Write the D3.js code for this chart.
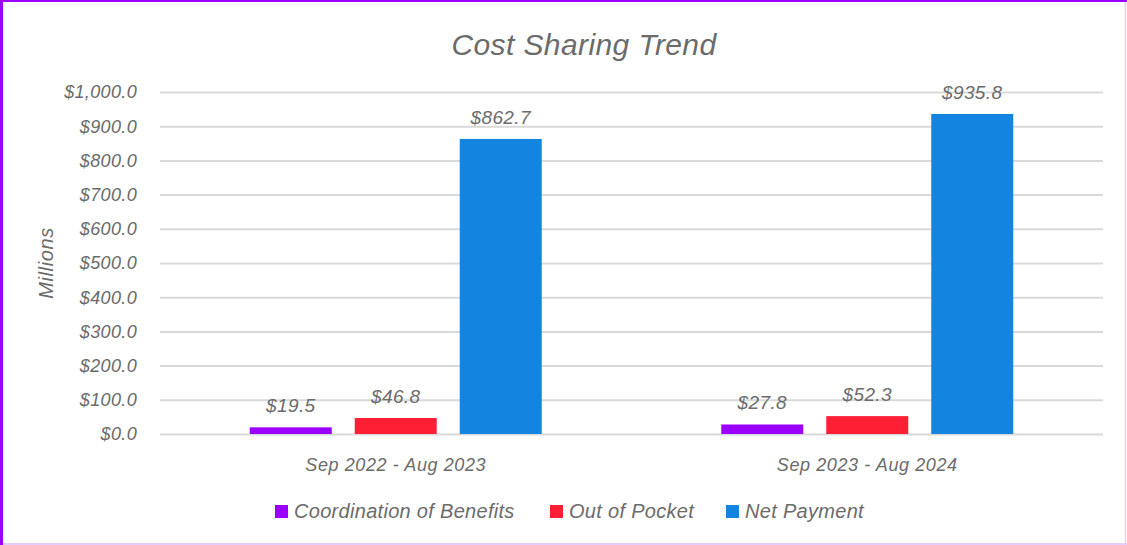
<!DOCTYPE html>
<html>
<head>
  <meta charset="UTF-8">
  <style>
    body { margin: 0; background: #fff; }
    svg { display: block; }
    text { font-family: "Liberation Sans", Arial, sans-serif; font-style: italic; fill: #6b6b6b; }
  </style>
  <title>Cost Sharing Trend</title>
</head>
<body>
<svg></svg>
<script src="https://d3js.org/d3.v7.min.js"></script>
<script>

let width = 1127, height = 545;

// data
const periods = ["Sep 2022 - Aug 2023", "Sep 2023 - Aug 2024"];
const seriesNames = ["Coordination of Benefits", "Out of Pocket", "Net Payment"];
const cob = [19.5, 27.8];
const oop = [46.8, 52.3];
const netPay = [862.7, 935.8];
const yTicks = [0, 100, 200, 300, 400, 500, 600, 700, 800, 900, 1000];
const colors = ["#9b00ff", "#ff1f35", "#1384e0"];

const values = [cob, oop, netPay];
const rows = periods.map((p, i) => ({
  period: p,
  vals: seriesNames.map((s, j) => ({ name: s, value: values[j][i], color: colors[j] }))
}));

let svg = d3.select("svg")
    .attr("width", width)
    .attr("height", height);

// frame
svg.append("rect").attr("x", 0).attr("y", 0).attr("width", width).attr("height", height).attr("fill", "#fff");
svg.append("line").attr("x1", 1125.5).attr("x2", 1125.5).attr("y1", 0).attr("y2", height).attr("stroke", "#e6ccff").attr("stroke-width", 1.5);
svg.append("line").attr("x1", 0).attr("x2", width).attr("y1", 544).attr("y2", 544).attr("stroke", "#e6ccff").attr("stroke-width", 2);
svg.append("rect").attr("x", 0).attr("y", 0).attr("width", width).attr("height", 2).attr("fill", "#9b00ff");
svg.append("rect").attr("x", 0).attr("y", 0).attr("width", 3).attr("height", height).attr("fill", "#9b00ff");

let plotLeft = 160, plotRight = 1103, plotTop = 92, plotBottom = 434;

let y = d3.scaleLinear().domain([0, 1000]).range([plotBottom, plotTop]);
let x0 = d3.scaleBand().domain(periods).range([plotLeft, plotRight]).padding(0);
let x1 = d3.scaleBand().domain(seriesNames).range([0, x0.bandwidth()])
    .paddingInner(0.219).paddingOuter(0.855);

// gridlines
svg.append("g")
  .selectAll("line")
  .data(yTicks)
  .enter()
  .append("line")
    .attr("x1", plotLeft).attr("x2", plotRight)
    .attr("y1", d => y(d) + 0.5).attr("y2", d => y(d) + 0.5)
    .attr("stroke", "#d9d9d9")
    .attr("stroke-width", 2);

// y labels
svg.append("g")
  .selectAll("text")
  .data(yTicks)
  .enter()
  .append("text")
    .attr("x", 137)
    .attr("y", d => y(d))
    .attr("dy", "0.35em")
    .attr("text-anchor", "end")
    .style("font-size", "18px")
    .style("letter-spacing", "0.35px")
    .text(d => "$" + d3.format(",.1f")(d));

svg.append("text")
  .attr("transform", "translate(53," + ((plotTop + plotBottom) / 2) + ") rotate(-90)")
  .attr("text-anchor", "middle")
  .style("font-size", "20px")
  .style("letter-spacing", "0.6px")
  .text("Millions");

// title
svg.append("text")
  .attr("x", 584).attr("y", 55)
  .attr("text-anchor", "middle")
  .style("font-size", "30px")
  .style("letter-spacing", "0.4px")
  .text("Cost Sharing Trend");

// bars
let groups = svg.append("g")
  .selectAll("g")
  .data(rows)
  .enter()
  .append("g")
    .attr("transform", d => "translate(" + x0(d.period) + ",0)");

groups.selectAll("rect")
  .data(d => d.vals)
  .enter()
  .append("rect")
    .attr("x", d => x1(d.name))
    .attr("y", d => y(d.value))
    .attr("width", x1.bandwidth())
    .attr("height", d => plotBottom - y(d.value))
    .attr("fill", d => d.color);

groups.selectAll("text")
  .data(d => d.vals)
  .enter()
  .append("text")
    .attr("x", d => x1(d.name) + x1.bandwidth() / 2)
    .attr("y", d => y(d.value) - 15)
    .attr("text-anchor", "middle")
    .style("font-size", "19px")
    .style("letter-spacing", "0.4px")
    .text(d => "$" + d3.format(",.1f")(d.value));

// x labels
svg.append("g")
  .selectAll("text")
  .data(periods)
  .enter()
  .append("text")
    .attr("x", d => x0(d) + x0.bandwidth() / 2)
    .attr("y", 471)
    .attr("text-anchor", "middle")
    .style("font-size", "18px")
    .style("letter-spacing", "0.6px")
    .text(d => d);

// legend
let legendX = [275, 550, 726];
let legend = svg.append("g")
  .selectAll("g")
  .data(seriesNames)
  .enter()
  .append("g")
    .attr("transform", (d, i) => "translate(" + legendX[i] + ",505)");

legend.append("rect")
  .attr("width", 13).attr("height", 13)
  .attr("fill", (d, i) => colors[i]);

legend.append("text")
  .attr("x", 19).attr("y", 13)
  .style("font-size", "20px")
  .style("letter-spacing", "0.3px")
  .text(d => d);

</script>
</body>
</html>
